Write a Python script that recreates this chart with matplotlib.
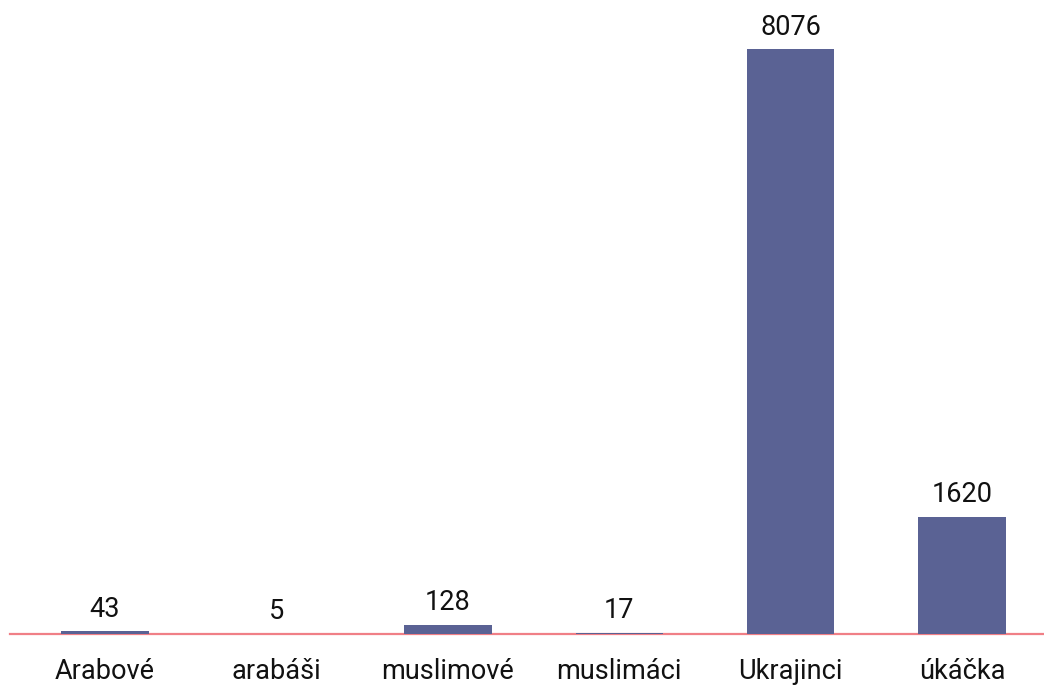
import numpy as np
import matplotlib.pyplot as plt

plt.rcParams['font.family'] = ['Roboto', 'DejaVu Sans']

# Data
categories = ['Arabové', 'arabáši', 'muslimové', 'muslimáci', 'Ukrajinci', 'úkáčka']
counts = [43, 5, 128, 17, 8076, 1620]

bar_color = '#5a6294'
line_color = '#f07f86'

fig = plt.figure(figsize=(10.44, 6.86), dpi=100)
ax = fig.add_axes([10 / 1044, 52 / 686, 1 - 10 / 1044, 1 - 52 / 686])

x = np.arange(len(categories))
bars = ax.bar(x, counts, width=0.51, color=bar_color, zorder=2)

# value labels above bars
for xi, v in zip(x, counts):
    ax.annotate(str(v), (xi, v), xytext=(0, 6), textcoords='offset points',
                ha='center', va='bottom', fontsize=19.5, color='#111111')

ax.axhline(0, color=line_color, lw=1.6, zorder=1, clip_on=False)

ax.set_xlim(-0.554, 5.478)
ax.set_ylim(0, 8076 * 634 / 585)

ax.set_xticks(x)
ax.set_xticklabels(categories, fontsize=19.5, color='#111111')
ax.tick_params(axis='x', length=0, pad=17)
ax.set_yticks([])
for s in ax.spines.values():
    s.set_visible(False)

fig.savefig('out.png', dpi=100)
